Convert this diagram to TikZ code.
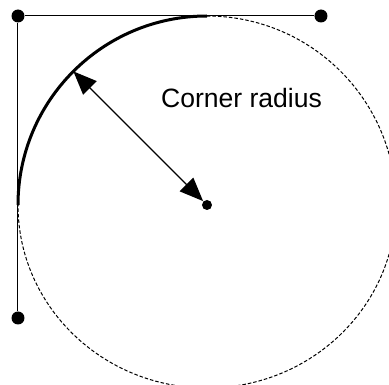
\documentclass[tikz,border=0pt]{standalone}
\usepackage{fontspec}
\setmainfont{Liberation Sans}
\usetikzlibrary{arrows.meta}

\begin{document}
\begin{tikzpicture}[>={Triangle[length=0.47cm,width=0.38cm]},
    line width=0.02cm,
    bigdot/.style={circle, fill=black, inner sep=0pt, minimum size=0.26cm},
    smalldot/.style={circle, fill=black, inner sep=0pt, minimum size=0.2cm}]
      \clip (0, 0) rectangle (7.78, 7.7);

      % Nodes
      \node[bigdot] (corner) at (0.36, 7.38) {};
      \node[bigdot] (topdot) at (6.42, 7.38) {};
      \node[bigdot] (leftdot) at (0.36, 1.34) {};
      \node[smalldot] (centre) at (4.14, 3.6) {};
      \node (label) at (4.83, 5.74) {\fontsize{15.1pt}{18pt}\selectfont Corner radius};
      \coordinate (arctop) at (4.14, 7.38);
      \coordinate (arcleft) at (0.36, 3.6);

      % Edges
      \draw (corner) -- (topdot);
      \draw (corner) -- (leftdot);

      % Curved lines
      \draw[dash pattern=on 0.07cm off 0.04cm] (arctop) arc[start angle=90, end angle=0, radius=3.78]
        arc[start angle=0, end angle=-180, x radius=3.78, y radius=3.66];
      \draw[line width=0.06cm] (arcleft) arc[start angle=180, end angle=90, radius=3.78];

      % Radius
      \path (centre) ++(135:3.78) coordinate (arcmid);
      \draw[<->, line width=0.028cm] (arcmid) -- (centre);
    \end{tikzpicture}
\end{document}
